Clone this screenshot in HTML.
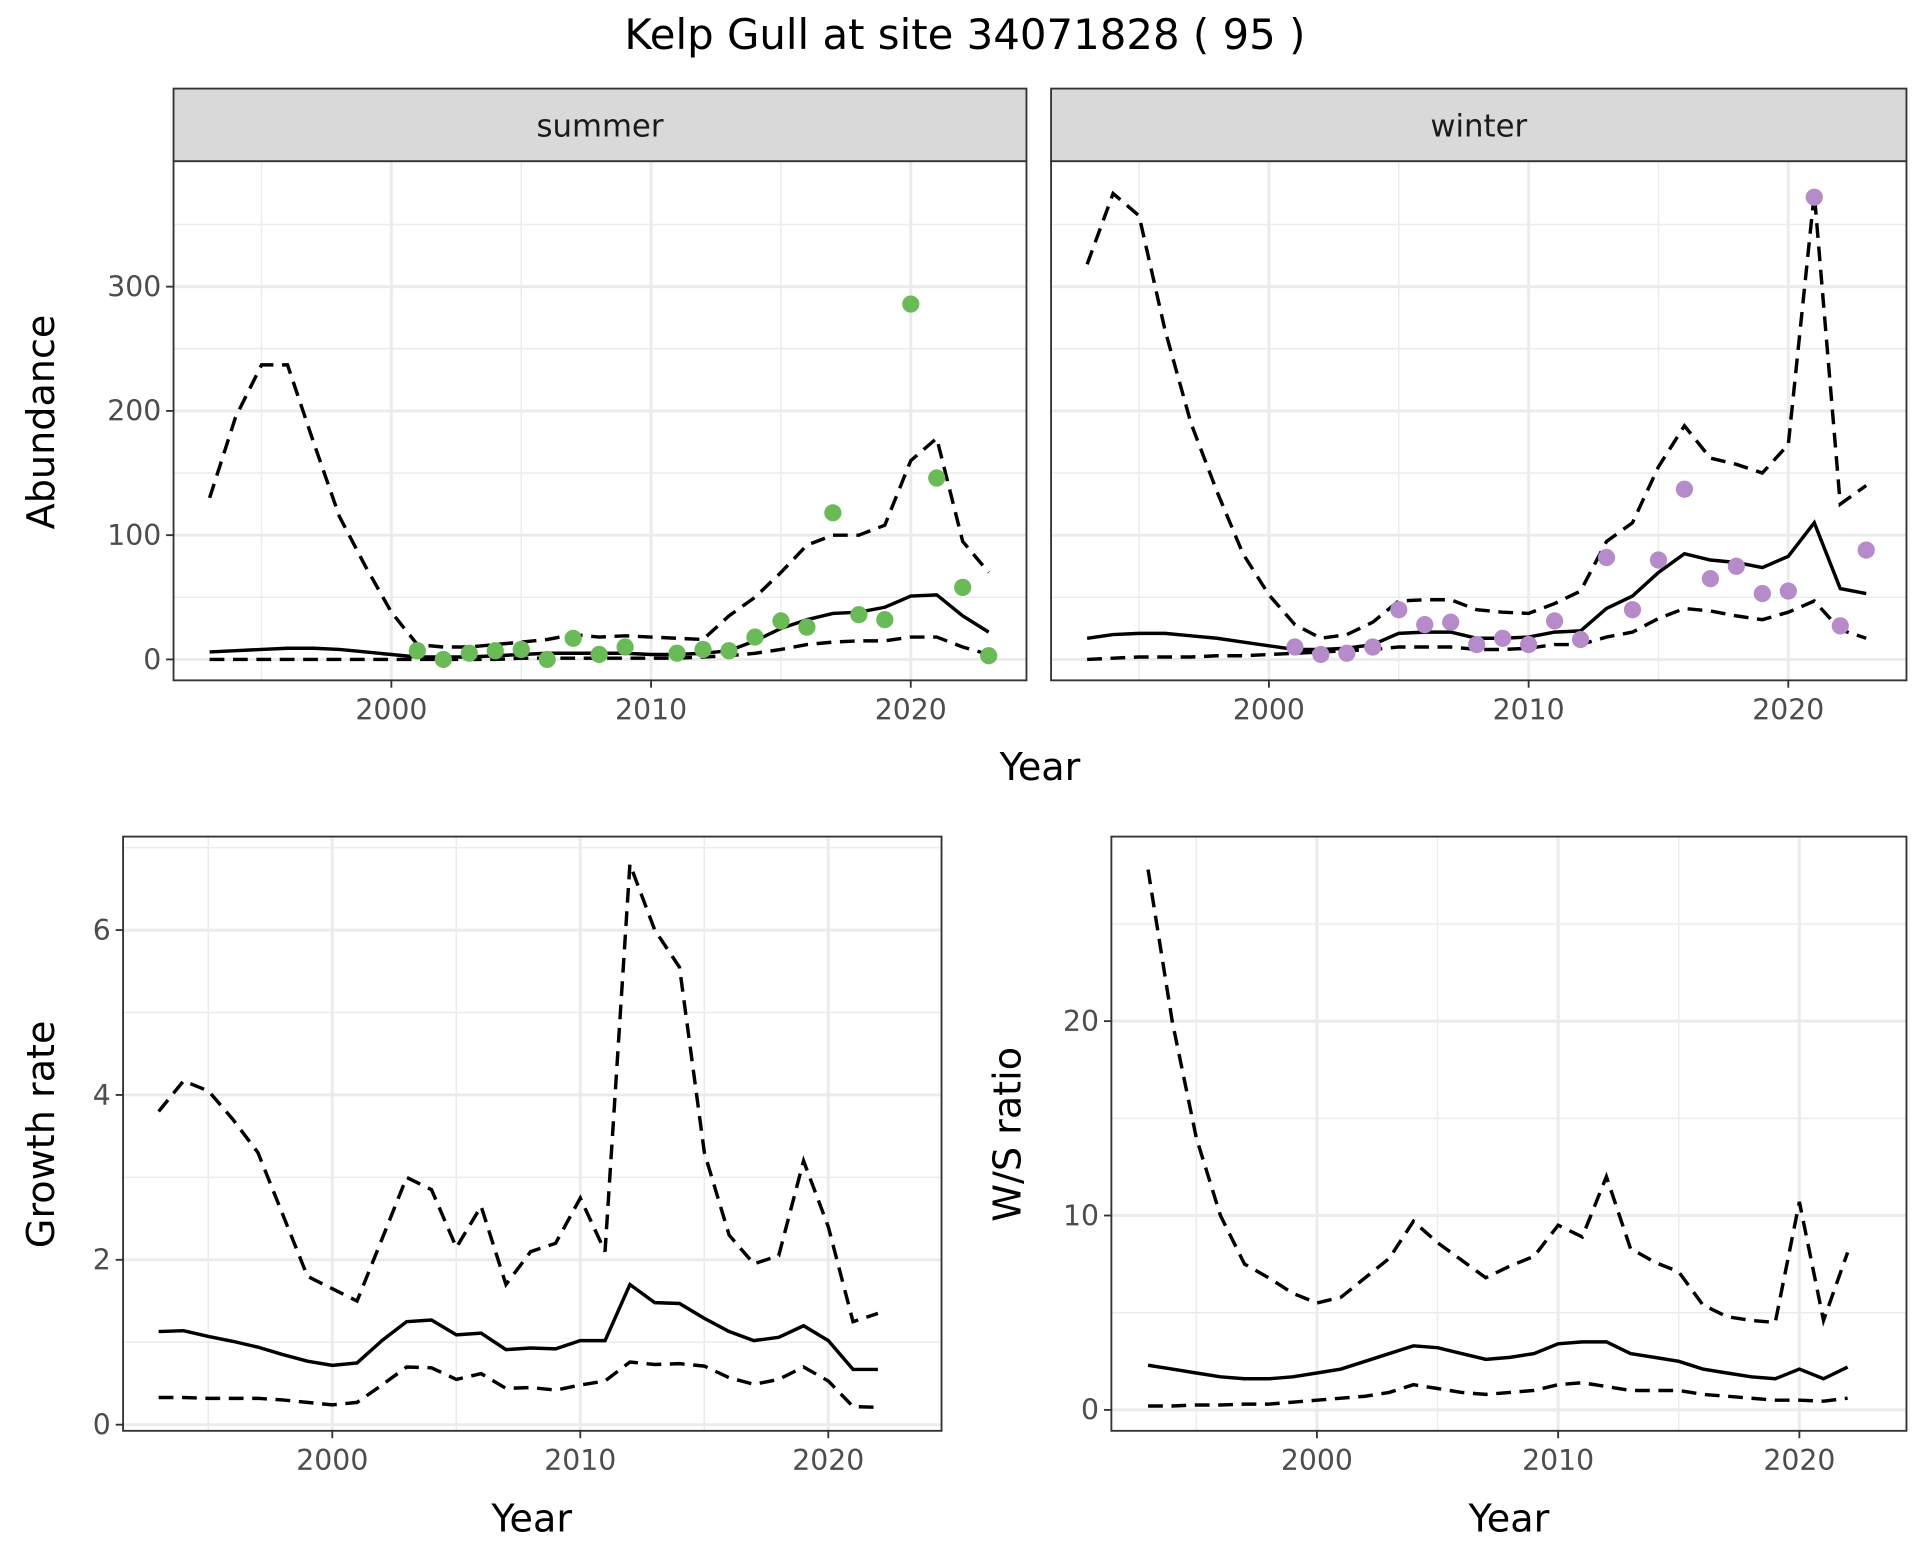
<!DOCTYPE html>
<html><head><meta charset="utf-8"><style>
body{margin:0;background:#fff}
svg{display:block;font-family:"DejaVu Sans","Liberation Sans",sans-serif}
</style></head><body>
<svg id="chart" width="1920" height="1560" viewBox="0 0 1560 1268" preserveAspectRatio="none" xmlns="http://www.w3.org/2000/svg">
<rect width="1560" height="1268" fill="#fff"/>
<text x="784" y="40" font-size="34" text-anchor="middle" fill="#000">Kelp Gull at site 34071828 ( 95 )</text>
</svg>
<script>
const years = [1993,1994,1995,1996,1997,1998,1999,2000,2001,2002,2003,2004,2005,2006,2007,2008,2009,2010,2011,2012,2013,2014,2015,2016,2017,2018,2019,2020,2021,2022,2023];
const summerMid = [6,7,8,9,9,8,6,4,2,2,2,3,4,5,5,5,5,4,4,5,7,15,25,32,37,38,42,51,52,35,22];
const summerUpper = [130,195,237,237,175,115,75,38,12,10,10,12,14,16,20,18,19,18,17,16,35,50,70,92,100,100,108,160,178,95,70];
const summerLower = [0,0,0,0,0,0,0,0,0,0,0,0,1,1,1,1,1,1,1,2,3,5,8,12,14,15,15,18,18,10,4];
const summerPtYears = [2001,2002,2003,2004,2005,2006,2007,2008,2009,2011,2012,2013,2014,2015,2016,2017,2018,2019,2020,2021,2022,2023];
const summerPts = [7,0,5,7,8,0,17,4,10,5,8,7,18,31,26,118,36,32,286,146,58,3];
const winterMid = [17,20,21,21,19,17,14,11,8,8,9,12,21,22,22,17,17,18,22,23,41,51,70,85,80,78,74,83,110,57,53];
const winterUpper = [318,375,357,265,190,135,85,52,28,17,20,30,47,48,48,40,38,37,45,55,95,110,155,188,162,157,150,173,375,125,140];
const winterLower = [0,1,2,2,2,3,3,4,5,6,7,8,10,10,10,8,8,9,12,12,18,22,33,41,39,35,32,38,47,24,17];
const winterPtYears = [2001,2002,2003,2004,2005,2006,2007,2008,2009,2010,2011,2012,2013,2014,2015,2016,2017,2018,2019,2020,2021,2022,2023];
const winterPts = [10,4,5,10,40,28,30,12,17,12,31,16,82,40,80,137,65,75,53,55,372,27,88];
const years2 = [1993,1994,1995,1996,1997,1998,1999,2000,2001,2002,2003,2004,2005,2006,2007,2008,2009,2010,2011,2012,2013,2014,2015,2016,2017,2018,2019,2020,2021,2022];
const growthMid = [1.13,1.14,1.07,1.01,.94,.85,.77,.72,.75,1.02,1.25,1.27,1.09,1.11,.91,.93,.92,1.02,1.02,1.70,1.48,1.47,1.29,1.13,1.02,1.06,1.20,1.02,.67,.67];
const growthUpper = [3.8,4.17,4.05,3.7,3.3,2.55,1.8,1.65,1.5,2.25,3.0,2.85,2.15,2.65,1.7,2.1,2.2,2.75,2.1,6.8,6.0,5.55,3.3,2.3,1.95,2.05,3.2,2.4,1.25,1.35];
const growthLower = [.33,.33,.32,.32,.32,.3,.27,.24,.27,.48,.70,.69,.55,.62,.44,.45,.42,.48,.53,.76,.73,.74,.71,.57,.49,.55,.70,.53,.22,.21];
const ratioMid = [2.3,2.1,1.9,1.7,1.6,1.6,1.7,1.9,2.1,2.5,2.9,3.3,3.2,2.9,2.6,2.7,2.9,3.4,3.5,3.5,2.9,2.7,2.5,2.1,1.9,1.7,1.6,2.1,1.6,2.2];
const ratioUpper = [27.8,20,14,10,7.5,6.8,6,5.5,5.8,6.8,7.8,9.7,8.6,7.7,6.8,7.4,7.9,9.5,8.9,12,8.3,7.6,7.1,5.4,4.8,4.6,4.5,10.7,4.6,8.1];
const ratioLower = [.2,.2,.25,.25,.3,.3,.4,.5,.6,.7,.9,1.3,1.1,.9,.8,.9,1.0,1.3,1.4,1.2,1.0,1.0,1.0,.8,.7,.6,.5,.5,.45,.6];
const xTicks = [2000,2010,2020];
const xMinor = [1995,2005,2015];
const abTicks = [0,100,200,300];
const abMinor = [50,150,250,350];
const grTicks = [0,2,4,6];
const grMinor = [1,3,5,7];
const raTicks = [0,10,20];
const raMinor = [5,15,25];

const svg = document.getElementById('chart');
const NS = 'http://www.w3.org/2000/svg';
function mk(tag, attrs, parent){const e=document.createElementNS(NS,tag);for(const k in attrs)e.setAttribute(k,attrs[k]);(parent||svg).appendChild(e);return e;}

function panel(cfg){
  const {name,x0,x1,y0,y1,xs,ys,yt,ym,yLabels,ptsColor} = cfg;
  const g = mk('g',{});
  
  
  xMinor.forEach(v=>{mk('line',{x1:xs(v),x2:xs(v),y1:y0,y2:y1,stroke:'#ebebeb','stroke-width':1.2},g);});
  ym.forEach(v=>{const y=ys(v); if(y>y0&&y<y1) mk('line',{x1:x0,x2:x1,y1:y,y2:y,stroke:'#ebebeb','stroke-width':1.2},g);});
  xTicks.forEach(v=>{mk('line',{x1:xs(v),x2:xs(v),y1:y0,y2:y1,stroke:'#ebebeb','stroke-width':2.4},g);});
  yt.forEach(v=>{mk('line',{x1:x0,x2:x1,y1:ys(v),y2:ys(v),stroke:'#ebebeb','stroke-width':2.4},g);});
  cfg.series.forEach(s=>{
    const d = s.ys.map((v,i)=>(i?'L':'M')+xs(s.xs[i]).toFixed(1)+' '+ys(v).toFixed(1)).join(' ');
    const p = mk('path',{d:d,fill:'none',stroke:'#000','stroke-width':2.8,'stroke-dasharray':s.dash?'12 7':'none'},g);
    
    
  });
  if(cfg.pts){cfg.pts.ys.forEach((v,i)=>{
    const c = mk('circle',{cx:xs(cfg.pts.xs[i]),cy:ys(v),r:7,fill:ptsColor},g);
    
    
  });}
  mk('rect',{x:x0,y:y0,width:x1-x0,height:y1-y0,fill:'none',stroke:'#333','stroke-width':1.5},g);
  xTicks.forEach(v=>{
    mk('line',{x1:xs(v),x2:xs(v),y1:y1,y2:y1+6,stroke:'#333','stroke-width':1.5},g);
    const t = mk('text',{x:xs(v),y:y1+32,'font-size':23,'text-anchor':'middle',fill:'#4d4d4d'},g);
    t.textContent = v;
    
    
  });
  if(yLabels){yt.forEach(v=>{
    mk('line',{x1:x0-6,x2:x0,y1:ys(v),y2:ys(v),stroke:'#333','stroke-width':1.5},g);
    const t = mk('text',{x:x0-10,y:ys(v)+8,'font-size':23,'text-anchor':'end',fill:'#4d4d4d'},g);
    t.textContent = v;
    
    
  });}
  if(cfg.strip){
    mk('rect',{x:x0,y:72,width:x1-x0,height:y0-72,fill:'#d9d9d9',stroke:'#333','stroke-width':1.5},g);
    const t = mk('text',{x:(x0+x1)/2,y:111,'font-size':25,'text-anchor':'middle',fill:'#1a1a1a'},g);
    t.textContent = cfg.strip;
    
    
  }
}
function lin(d0,d1,r0,r1){return v=>r0+(v-d0)*(r1-r0)/(d1-d0);}
function label(txt,x,y,rot,nm){
  const t = mk('text',{x:x,y:y,'font-size':31,'text-anchor':'middle',fill:'#000',transform:rot?`rotate(-90 ${x} ${y})`:''});
  t.textContent = txt;
  
  
}

const abY = lin(0,300,536,233);
panel({name:'summer',x0:141,x1:834,y0:131,y1:553,xs:lin(2000,2020,318,740),ys:abY,yt:abTicks,ym:abMinor,yLabels:true,strip:'summer',ptsColor:'#6abb58',
  series:[{n:'upper',xs:years,ys:summerUpper,dash:true},{n:'lower',xs:years,ys:summerLower,dash:true},{n:'mid',xs:years,ys:summerMid}],
  pts:{xs:summerPtYears,ys:summerPts}});
panel({name:'winter',x0:854,x1:1549,y0:131,y1:553,xs:lin(2000,2020,1031,1453),ys:abY,yt:abTicks,ym:abMinor,yLabels:false,strip:'winter',ptsColor:'#b58bc9',
  series:[{n:'upper',xs:years,ys:winterUpper,dash:true},{n:'lower',xs:years,ys:winterLower,dash:true},{n:'mid',xs:years,ys:winterMid}],
  pts:{xs:winterPtYears,ys:winterPts}});
panel({name:'growth',x0:100,x1:765,y0:680,y1:1163,xs:lin(2000,2020,270,673),ys:lin(0,6,1158,756),yt:grTicks,ym:grMinor,yLabels:true,
  series:[{n:'upper',xs:years2,ys:growthUpper,dash:true},{n:'lower',xs:years2,ys:growthLower,dash:true},{n:'mid',xs:years2,ys:growthMid}]});
panel({name:'ratio',x0:903,x1:1549,y0:680,y1:1163,xs:lin(2000,2020,1070,1462),ys:lin(0,20,1146,830),yt:raTicks,ym:raMinor,yLabels:true,
  series:[{n:'upper',xs:years2,ys:ratioUpper,dash:true},{n:'lower',xs:years2,ys:ratioLower,dash:true},{n:'mid',xs:years2,ys:ratioMid}]});

label('Abundance',44,343,true,'abundance-y-axis-title');
label('Year',845,634,false,'top-x-axis-title');
label('Growth rate',44,922,true,'growth-y-axis-title');
label('Year',432,1245,false,'growth-x-axis-title');
label('W/S ratio',829,922,true,'ratio-y-axis-title');
label('Year',1226,1245,false,'ratio-x-axis-title');
</script>
</body></html>
